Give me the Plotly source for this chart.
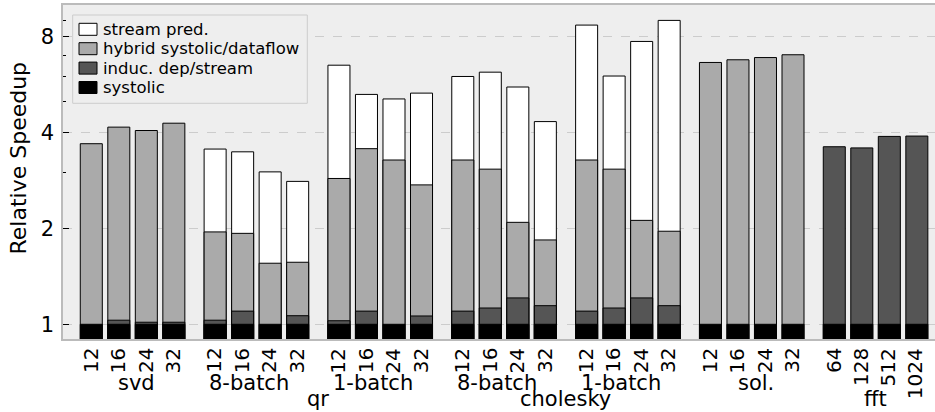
import plotly.graph_objects as go

# ---- data ----
groups = ["svd", "8-batch", "1-batch", "8-batch", "1-batch", "sol.", "fft"]
supergroups = ["qr", "cholesky"]
size_labels = [
    ["12", "16", "24", "32"],
    ["12", "16", "24", "32"],
    ["12", "16", "24", "32"],
    ["12", "16", "24", "32"],
    ["12", "16", "24", "32"],
    ["12", "16", "24", "32"],
    ["64", "128", "512", "1024"],
]
systolic = [1.0] * 28
induc = [None, 1.03, 1.015, 1.015,
         1.03, 1.10, None, 1.064,
         1.026, 1.10, None, 1.062,
         1.10, 1.125, 1.21, 1.144,
         1.10, 1.125, 1.21, 1.144,
         None, None, None, None,
         3.61, 3.58, 3.89, 3.90]
hybrid = [3.69, 4.16, 4.06, 4.28,
          1.95, 1.93, 1.555, 1.566,
          2.87, 3.56, 3.28, 2.74,
          3.28, 3.07, 2.09, 1.84,
          3.28, 3.07, 2.12, 1.96,
          6.64, 6.77, 6.88, 7.02,
          None, None, None, None]
stream = [None, None, None, None,
          3.55, 3.48, 3.01, 2.81,
          6.51, 5.27, 5.10, 5.32,
          6.00, 6.19, 5.56, 4.33,
          8.70, 6.02, 7.73, 9.00,
          None, None, None, None,
          None, None, None, None]

series = [
    ("stream pred.", stream, "#ffffff"),
    ("hybrid systolic/dataflow", hybrid, "#aaaaaa"),
    ("induc. dep/stream", induc, "#555555"),
    ("systolic", systolic, "#000000"),
]

# ---- layout helpers ----
GROUP_STEP = 4.5
pos = []
ticktext = []
for g, labs in enumerate(size_labels):
    for i, lab in enumerate(labs):
        pos.append(g * GROUP_STEP + i)
        ticktext.append(lab)

BASE = 0.5
W, H = 935, 412
L, R, T, B = 63, 0, 5, 73
PW, PH = W - L - R, H - T - B

def px2paper_x(px):
    return (px - L) / PW

def px2paper_y(py):
    return (H - B - py) / PH

fig = go.Figure()
for name, vals, color in series:
    xs = [p for p, v in zip(pos, vals) if v is not None]
    ys = [v - BASE for v in vals if v is not None]
    fig.add_trace(go.Bar(
        x=xs, y=ys, base=BASE, name=name, width=0.8,
        marker=dict(color=color, line=dict(color="#000000", width=1)),
        showlegend=False,
    ))

ann = []
# size tick labels (rotated, top-aligned just below the axis)
TICK_FS = 20
LABEL_TOP = 348
for p, lab in zip(pos, ticktext):
    half_len = len(lab) * 0.636 * TICK_FS / 2
    ann.append(dict(x=p, y=px2paper_y(LABEL_TOP + half_len), xref="x", yref="paper",
                    text=lab, textangle=-90, showarrow=False, xanchor="center",
                    yanchor="middle", xshift=-1,
                    font=dict(size=TICK_FS, color="black")))

# group label annotations
group_centers = [g * GROUP_STEP + 1.5 for g in range(len(groups))]
shifts = [4, -7, -7, -7, -7, 4, 0]
lvl1_y = px2paper_y(383)
lvl2_y = px2paper_y(399)
for gname, c, s in zip(groups, group_centers, shifts):
    yy = lvl2_y if gname == "fft" else lvl1_y
    ann.append(dict(x=c, y=yy, xref="x", yref="paper", text=gname,
                    showarrow=False, xshift=s, yanchor="middle",
                    font=dict(size=21, color="black")))
qr_c = (group_centers[1] + group_centers[2]) / 2
ch_c = (group_centers[3] + group_centers[4]) / 2
for name, c in zip(supergroups, [qr_c, ch_c]):
    ann.append(dict(x=c, y=lvl2_y, xref="x", yref="paper", text=name,
                    showarrow=False, yanchor="middle",
                    font=dict(size=21, color="black")))
# y title
ann.append(dict(x=px2paper_x(17.5), y=px2paper_y(158), xref="paper", yref="paper",
                text="Relative Speedup", textangle=-90, showarrow=False,
                xanchor="center", yanchor="middle",
                font=dict(size=22, color="black")))

# manual legend
shapes = []
shapes.append(dict(type="rect", xref="paper", yref="paper",
                   x0=px2paper_x(72.7), x1=px2paper_x(307.3),
                   y0=px2paper_y(103.3), y1=px2paper_y(15),
                   line=dict(color="#cccccc", width=1), fillcolor="#eeeeee",
                   layer="above"))
row0, step = 29.3, 19.4
for k, (name, vals, color) in enumerate(series):
    cy = row0 + k * step
    shapes.append(dict(type="rect", xref="paper", yref="paper",
                       x0=px2paper_x(79), x1=px2paper_x(97),
                       y0=px2paper_y(cy + 6), y1=px2paper_y(cy - 6),
                       line=dict(color="#000000", width=1), fillcolor=color,
                       layer="above"))
    ann.append(dict(x=px2paper_x(101), y=px2paper_y(cy), xref="paper", yref="paper",
                    text=name, showarrow=False, xanchor="left", yanchor="middle",
                    font=dict(size=16.5, color="black")))

fig.update_layout(
    width=W, height=H,
    margin=dict(l=L, r=R, t=T, b=B, pad=0),
    barmode="overlay",
    plot_bgcolor="#eeeeee",
    paper_bgcolor="#ffffff",
    font=dict(family="DejaVu Sans", color="black"),
    annotations=ann,
    shapes=shapes,
    xaxis=dict(
        range=[-1.028, 30.66],
        tickmode="array", tickvals=pos, ticktext=[""] * len(pos),
        ticks="", showgrid=False, zeroline=False,
        showline=True, linecolor="#bbbbbb", linewidth=1.5, mirror=True,
    ),
    yaxis=dict(
        type="log", range=[-0.0462, 1.0026],
        tickmode="array", tickvals=[1, 2, 4, 8], ticktext=["1", "2", "4", "8"],
        tickfont=dict(size=21, color="black"),
        ticks="inside", ticklen=6, tickcolor="black", tickwidth=1,
        showgrid=True, gridcolor="#cccccc", griddash="dash", gridwidth=1,
        zeroline=False, showline=True, linecolor="#bbbbbb", linewidth=1.5,
        minor=dict(tickvals=[3, 5, 6, 7, 9], ticks="inside", ticklen=3,
                   tickcolor="black", showgrid=False),
        ticklabelstandoff=3,
    ),
)

fig.write_html("out.html")
